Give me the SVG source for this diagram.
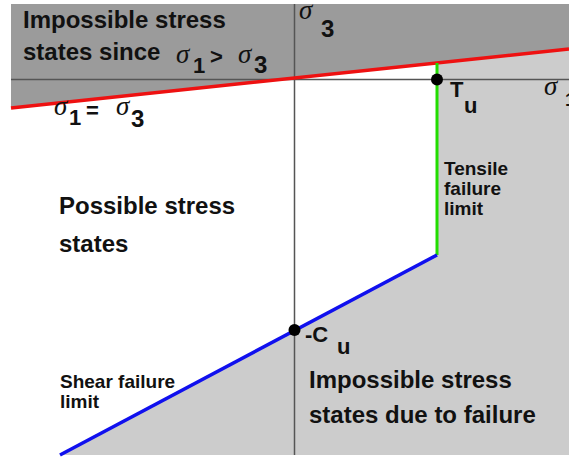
<svg xmlns="http://www.w3.org/2000/svg" width="569" height="458" viewBox="0 0 569 458">
<style>
.lbl{font-family:"Liberation Sans",Arial,sans-serif;font-weight:bold;fill:#111;}
.big{font-size:24px;}
.sm{font-size:19px;}
.sub{font-size:22px;}
.sig{font-family:"Liberation Serif","DejaVu Serif",serif;font-style:italic;font-size:27px;fill:#111;}
.axis{stroke:#555;stroke-width:1.5;fill:none;}
.dot{fill:#000;}
</style>
<rect width="569" height="458" fill="#fff"/>
<g id="regions">
<polygon id="dark-region" points="11,4 569,4 569,49 11,108" fill="#9b9b9b"/>
<polygon id="light-region" points="437,63 569,49 569,455 60,455 437,255" fill="#cccccc"/>
</g>
<g id="connectors">
<line class="axis" x1="294.5" y1="4" x2="294.5" y2="455"/>
<line class="axis" x1="11" y1="79.5" x2="569" y2="79.5"/>
<line x1="11" y1="108" x2="569" y2="49" stroke="#ee1111" stroke-width="3.5"/>
<line x1="437" y1="63" x2="437" y2="255" stroke="#22dd00" stroke-width="3"/>
<line x1="437" y1="255" x2="60" y2="455" stroke="#1010ee" stroke-width="3.5"/>
</g>
<g id="label-impossible-top">
<text class="lbl big" x="23" y="28">Impossible stress</text>
<text class="lbl big" x="23" y="60">states since</text>
<text class="sig" x="176" y="63">σ</text>
<text class="lbl sub" x="193" y="73">1</text>
<text class="lbl sub" x="210" y="64">&gt;</text>
<text class="sig" x="238" y="63">σ</text>
<text class="lbl big" x="254" y="73">3</text>
</g>
<g id="label-sigma3-axis">
<text class="sig" x="299" y="19">σ</text>
<text class="lbl big" x="321" y="37">3</text>
</g>
<g id="label-sigma1-axis">
<text class="sig" x="544" y="95">σ</text>
<text class="lbl sm" x="565" y="106">1</text>
</g>
<g id="label-equal">
<text class="sig" x="54" y="115">σ</text>
<text class="lbl sub" x="69" y="125">1</text>
<text class="lbl sub" x="86" y="118">=</text>
<text class="sig" x="116" y="115">σ</text>
<text class="lbl big" x="131" y="127">3</text>
</g>
<g id="node-Tu">
<circle class="dot" cx="437" cy="79.5" r="6"/>
<text class="lbl sub" x="450" y="97">T</text>
<text class="lbl sub" x="464" y="113">u</text>
</g>
<g id="node-Cu">
<circle class="dot" cx="294.5" cy="330" r="6"/>
<text class="lbl sub" x="305" y="342">-C</text>
<text class="lbl sub" x="337" y="354">u</text>
</g>
<g id="label-tensile">
<text class="lbl sm" x="444" y="175">Tensile</text>
<text class="lbl sm" x="444" y="195">failure</text>
<text class="lbl sm" x="444" y="215">limit</text>
</g>
<g id="label-possible">
<text class="lbl big" x="59" y="214">Possible stress</text>
<text class="lbl big" x="59" y="252">states</text>
</g>
<g id="label-shear">
<text class="lbl sm" x="60" y="388">Shear failure</text>
<text class="lbl sm" x="60" y="408">limit</text>
</g>
<g id="label-impossible-bottom">
<text class="lbl big" x="309" y="388">Impossible stress</text>
<text class="lbl big" x="309" y="423">states due to failure</text>
</g>
</svg>
